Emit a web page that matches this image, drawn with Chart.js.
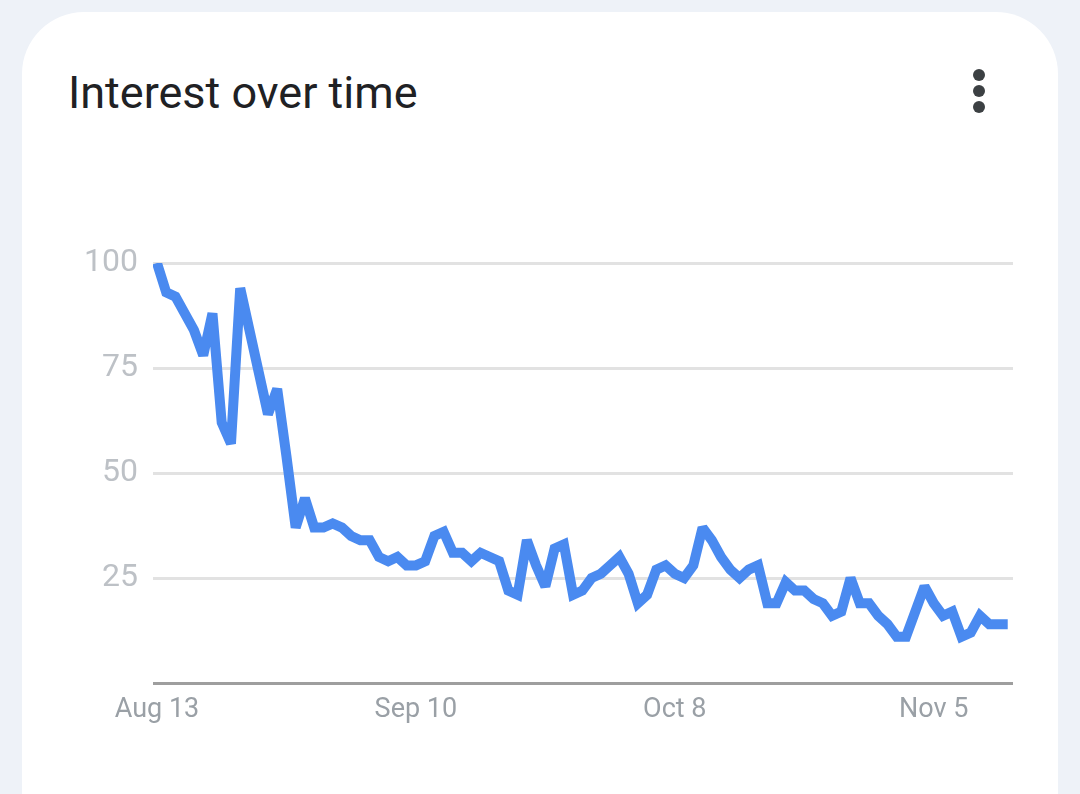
<!DOCTYPE html>
<html>
<head>
<meta charset="utf-8">
<script src="https://cdn.jsdelivr.net/npm/chart.js@4.4.1/dist/chart.umd.min.js"></script>
<style>
  html, body { margin: 0; padding: 0; }
  body { width: 1080px; height: 794px; background: #eef2f8; overflow: hidden; position: relative; font-family: Roboto, "Noto Sans", sans-serif; }
  .card { position: absolute; left: 22px; top: 12px; width: 1036px; height: 850px; background: #fff; border-radius: 62px; }
  .title { position: absolute; left: 68px; top: 70px; font-size: 45px; line-height: 1; color: #202124; white-space: nowrap; }
  .dot { position: absolute; left: 973px; width: 12px; height: 12px; border-radius: 50%; background: #3c4043; }
  #wrap { position: absolute; left: 0; top: 0; width: 1080px; height: 794px; }
</style>
</head>
<body>
<div class="card"></div>
<div class="title">Interest over time</div>
<div class="dot" style="top:69px"></div>
<div class="dot" style="top:85px"></div>
<div class="dot" style="top:101px"></div>
<div id="wrap"><canvas id="interest-chart"></canvas></div>
<script>
// daily values, Aug 13 .. Nov 13
const interest = [
  100, 93, 92, 88, 84, 78, 88, 62, 57, 94,
  84, 74, 64, 70, 54, 37, 44, 37, 37, 38,
  37, 35, 34, 34, 30, 29, 30, 28, 28, 29,
  35, 36, 31, 31, 29, 31, 30, 29, 22, 21,
  34, 28, 23, 32, 33, 21, 22, 25, 26, 28,
  30, 26, 19, 21, 27, 28, 26, 25, 28, 37,
  34, 30, 27, 25, 27, 28, 19, 19, 24, 22,
  22, 20, 19, 16, 17, 25, 19, 19, 16, 14,
  11, 11, 17, 23, 19, 16, 17, 11, 12, 16,
  14, 14, 14
];
const tickDays = [0, 28, 56, 84];   // day index of each x label
const tickLabels = ["Aug 13", "Sep 10", "Oct 8", "Nov 5"];
const yTicks = [0, 25, 50, 75, 100];

const points = interest.map((v, i) => ({ x: i, y: v }));

// flatter tips on the sharp spikes, like the original
const miterPlugin = {
  id: "miter",
  beforeDatasetsDraw(chart) { chart.ctx.miterLimit = 2; },
};

const ctx = document.getElementById("interest-chart");
const chart = new Chart(ctx, {
  type: "line",
  data: {
    datasets: [{
      label: "Interest",
      data: points,
      borderColor: "#4a8af0",
      borderWidth: 10,
      borderJoinStyle: "miter",
      pointRadius: 0,
      tension: 0,
      fill: false,
    }],
  },
  plugins: [miterPlugin],
  options: {
    responsive: true,
    maintainAspectRatio: false,
    animation: false,
    events: [],
    layout: { padding: { left: 0, right: 67, top: 263, bottom: 0 } },
    plugins: { legend: { display: false }, tooltip: { enabled: false } },
    scales: {
      x: {
        type: "linear",
        min: -0.43,
        max: 92.57,
        afterBuildTicks: (scale) => { scale.ticks = tickDays.map((d) => ({ value: d })); },
        afterFit: (scale) => { scale.height = 794 - 683; },
        ticks: {
          autoSkip: false,
          maxRotation: 0,
          padding: 3,
          color: "#9aa0a6",
          font: { family: "Roboto", size: 27 },
          callback: (v, i) => tickLabels[i],
        },
        grid: { display: false },
        border: { display: false },
      },
      y: {
        min: 0,
        max: 100,
        afterBuildTicks: (scale) => { scale.ticks = yTicks.map((v) => ({ value: v })); },
        afterFit: (scale) => { scale.width = 153; },
        ticks: {
          padding: 15,
          color: "#bdc1c6",
          font: { family: "Roboto", size: 32 },
          callback: (v) => (v === 0 ? "" : v),
        },
        grid: {
          drawTicks: false,
          lineWidth: 3,
          color: (c) => (c.tick && c.tick.value === 0 ? "#9e9e9e" : "#e2e2e2"),
        },
        border: { display: false },
      },
    },
  },
});
</script>
</body>
</html>
